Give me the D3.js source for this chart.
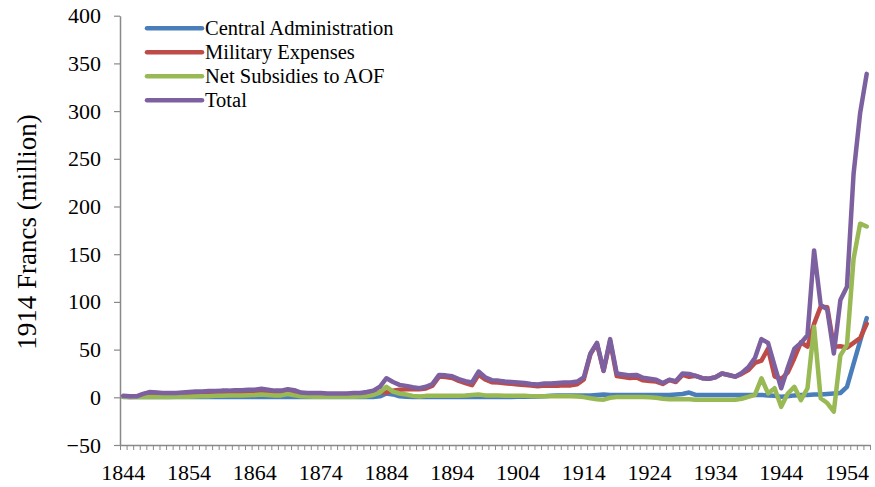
<!DOCTYPE html>
<html>
<head>
<meta charset="utf-8">
<script src="https://cdn.jsdelivr.net/npm/d3@7/dist/d3.min.js"></script>
<style>
    body { margin: 0; background: #fff; }
    svg text { font-family: 'Liberation Serif', 'Times New Roman', serif; fill: #000; }
</style>
</head>
<body>
<div id="chart"></div>
<script>
'use strict';

// one category per year, 1844 to 1957
var years = d3.range(1844, 1958);
var yearLabels = [1844, 1854, 1864, 1874, 1884, 1894, 1904, 1914, 1924, 1934, 1944, 1954];
var yTicks = [-50, 0, 50, 100, 150, 200, 250, 300, 350, 400];

var central = [
    0.2, 0.2, 0.2, 0.2, 0.2, 0.2, 0.2, 0.2, 0.2, 0.2,
    0.2, 0.2, 0.2, 0.2, 0.2, 0.2, 0.2, 0.2, 0.2, 0.2,
    0.2, 0.2, 0.2, 0.2, 0.2, 0.2, 0.2, 0.2, 0.2, 0.2,
    0.2, 0.2, 0.2, 0.2, 0.2, 0.2, 0.2, 0.2, 0.2, 1,
    4, 3, 1, 0.5, 0.3, 0.3, 0.3, 0.3, 0.3, 0.3,
    0.3, 0.3, 0.3, 0.3, 0.3, 0.3, 0.3, 0.3, 0.3, 0.3,
    0.5, 0.5, 0.5, 0.8, 1, 1.5, 2, 2, 2, 2,
    2, 2, 2.5, 3, 2.5, 2.5, 2.5, 2.5, 2.5, 2.5,
    2.5, 2.5, 2.5, 2.5, 3, 3.5, 5, 2.5, 2.5, 2.5,
    2.5, 2.5, 2.5, 2.5, 2.5, 2.5, 2.5, 2.5, 2, 1.5,
    0.5, 1, 2, 2.5, 2.5, 3, 3, 3.5, 4, 4.5,
    11, 35, 59, 83
];

var military = [
    0.8, 0.3, 0.5, 3, 5, 4.5, 4, 4, 3.8, 4.3,
    4.8, 5, 4.8, 5.1, 4.8, 5.3, 5, 5.3, 5.3, 5.6,
    5.3, 5.8, 5.3, 4.8, 4.8, 4.8, 5.3, 3.8, 3.5, 3.7,
    3.7, 3.2, 3.2, 3.2, 3.2, 3.7, 3.5, 4.1, 4.3, 5,
    5, 7, 8, 8.5, 8.7, 8.4, 9.2, 12.2, 21.7, 21.2,
    20.2, 17.2, 14.9, 12.7, 23.7, 18.7, 15.9, 15.4, 14.7, 14.2,
    13.5, 13, 12.3, 11.5, 12.3, 12, 12, 12.5, 12.5, 13.7,
    18.8, 45, 56.5, 27.5, 59, 22.3, 21.2, 20.2, 20.8, 17.8,
    17, 16.5, 14, 18, 16, 23.5, 21.5, 22.5, 20, 19.5,
    21, 25, 23.4, 21.6, 24.6, 28.5, 36, 38.5, 51, 22,
    19, 26, 41, 57.5, 53, 77, 95, 94.5, 53, 53.5,
    52, 57, 62, 77
];

var subsidies = [
    0.5, 0.5, 0.3, 0.3, 0.3, 0.3, 0.3, 0.3, 0.5, 0.5,
    0.5, 0.8, 1, 1.2, 1.5, 1.5, 1.8, 2, 2, 2.2,
    2.5, 3, 2.5, 2, 2, 3.5, 2, 1, 0.8, 0.6,
    0.6, 0.6, 0.6, 0.6, 0.6, 0.6, 0.8, 1.2, 2.5, 5,
    11, 6, 4, 3, 1.5, 0.8, 1.5, 1.5, 1.5, 1.5,
    1.5, 1.5, 1.8, 2.5, 3, 2, 1.8, 1.8, 1.5, 1.5,
    1.5, 1.5, 1.2, 1.2, 1.2, 1, 1, 1, 1, 0.8,
    0.2, -1, -2, -2.5, -0.5, 0.2, 0.3, 0.3, 0.2, 0.2,
    0, -0.5, -1.5, -2, -2, -2, -2, -2.5, -2.5, -2.5,
    -2.5, -2.5, -2.5, -2.5, -1.5, 0.5, 2.5, 20, 4, 9.5,
    -10, 4, 11, -3, 9.5, 74, -1, -6, -15, 44,
    55, 145, 182, 179
];

var total = [
    1.5, 1, 1, 3.5, 5.5, 5, 4.5, 4.5, 4.5, 5,
    5.5, 6, 6, 6.5, 6.5, 7, 7, 7.5, 7.5, 8,
    8, 9, 8, 7, 7, 8.5, 7.5, 5, 4.5, 4.5,
    4.5, 4, 4, 4, 4, 4.5, 4.5, 5.5, 7, 11,
    20, 16, 13, 12, 10.5, 9.5, 11, 14, 23.5, 23,
    22, 19, 17, 15.5, 27, 21, 18, 17.5, 16.5, 16,
    15.5, 15, 14, 13.5, 14.5, 14.5, 15, 15.5, 15.5, 16.5,
    21, 46, 57, 28, 61, 25, 24, 23, 23.5, 20.5,
    19.5, 18.5, 15, 18.5, 17, 25, 24.5, 22.5, 20, 19.5,
    21, 25, 23.4, 21.6, 25.6, 31.5, 41, 61, 57, 33,
    9.5, 31, 51, 57, 65, 154, 97, 92, 46, 102,
    116, 234, 298, 339
];

var seriesNames = ['Central Administration', 'Military Expenses', 'Net Subsidies to AOF', 'Total'];
var seriesValues = [central, military, subsidies, total];
var seriesColors = ['#4a7ebb', '#be4b48', '#98b954', '#7d60a0'];

var width = 875;
var height = 487;
var plotLeft = 120;
var plotRight = 870;
var plotTop = 15.7;
var plotBottom = 445;
var axisColor = '#898989';

var builder = {

    buildLayout: function (svg) {
        var x = d3.scaleBand()
            .domain(years)
            .range([plotLeft, plotRight])
            .padding(0);

        // category boundaries, used for the small tick marks
        var xEdge = d3.scaleLinear()
            .domain([0, years.length])
            .range([plotLeft, plotRight]);

        var y = d3.scaleLinear()
            .domain([-50, 400])
            .range([plotBottom, plotTop]);

        svg.attr('width', width)
            .attr('height', height)
            .attr('viewBox', '0 0 ' + width + ' ' + height);

        // y axis
        var yAxis = svg.append('g')
            .attr('class', 'y-axis')
            .attr('transform', 'translate(' + plotLeft + ',0)')
            .call(d3.axisLeft(y).tickValues(yTicks).tickSize(6).tickPadding(13).tickSizeOuter(0));
        yAxis.select('.domain').attr('stroke', axisColor).attr('stroke-width', 1.5);
        yAxis.selectAll('.tick line').attr('stroke', axisColor).attr('stroke-width', 1.2);
        yAxis.selectAll('.tick text')
            .attr('font-size', '22px')
            .attr('font-family', 'Liberation Serif, serif')
            .attr('fill', '#000');

        // x axis tick marks between categories
        var xTicks = svg.append('g')
            .attr('class', 'x-ticks')
            .attr('transform', 'translate(0,' + plotBottom + ')')
            .call(d3.axisBottom(xEdge).tickValues(d3.range(0, years.length + 1)).tickSize(5).tickFormat('').tickSizeOuter(0));
        xTicks.select('.domain').attr('stroke', axisColor).attr('stroke-width', 1.5);
        xTicks.selectAll('.tick line').attr('stroke', axisColor).attr('stroke-width', 1);

        // x labels every ten years
        var xLabels = svg.append('g')
            .attr('class', 'x-labels')
            .attr('transform', 'translate(0,' + plotBottom + ')')
            .call(d3.axisBottom(x).tickValues(yearLabels).tickSize(0).tickPadding(19));
        xLabels.select('.domain').remove();
        xLabels.selectAll('.tick text')
            .attr('font-size', '22px')
            .attr('font-family', 'Liberation Serif, serif')
            .attr('fill', '#000');

        svg.append('text')
            .attr('transform', 'translate(36,232) rotate(-90)')
            .attr('text-anchor', 'middle')
            .attr('font-size', '27px')
            .text('1914 Francs (million)');

        var line = d3.line()
            .x(function (d, i) { return x(years[i]) + x.bandwidth() / 2; })
            .y(function (d) { return y(d); });

        var lines = svg.append('g').attr('class', 'series');
        seriesValues.forEach(function (values, i) {
            lines.append('path')
                .datum(values)
                .attr('fill', 'none')
                .attr('stroke', seriesColors[i])
                .attr('stroke-width', 4.5)
                .attr('stroke-linejoin', 'round')
                .attr('stroke-linecap', 'round')
                .attr('d', line);
        });

        // legend, top left inside the plot
        var legend = svg.append('g').attr('class', 'legend');
        seriesNames.forEach(function (name, i) {
            var rowY = 28.3 + i * 24;
            legend.append('line')
                .attr('x1', 147)
                .attr('x2', 202)
                .attr('y1', rowY)
                .attr('y2', rowY)
                .attr('stroke', seriesColors[i])
                .attr('stroke-width', 4.5)
                .attr('stroke-linecap', 'round');
            legend.append('text')
                .attr('x', 205)
                .attr('y', rowY)
                .attr('dy', '0.35em')
                .attr('font-size', '20.5px')
                .text(name);
        });
    }
};

var svg = d3.select('#chart').append('svg');
builder.buildLayout(svg);
</script>
</body>
</html>
